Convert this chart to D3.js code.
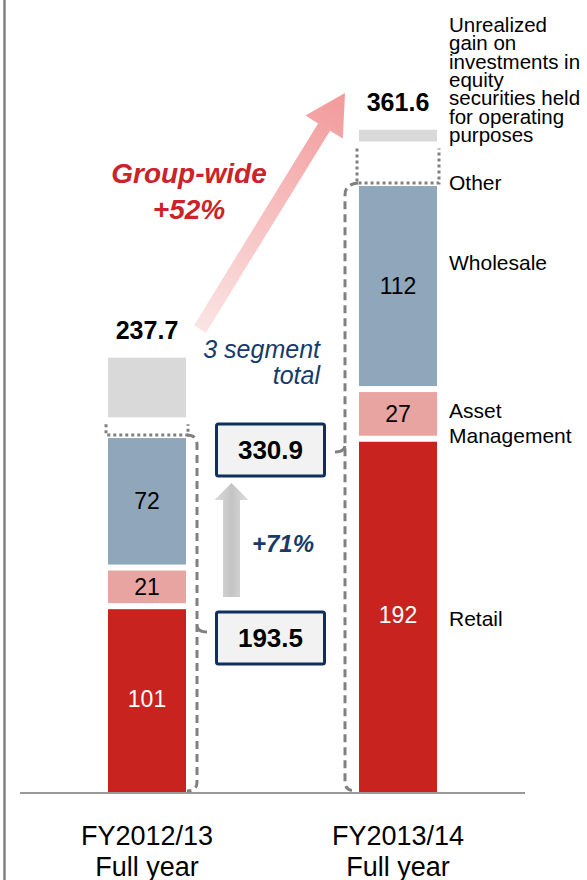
<!DOCTYPE html>
<html><head><meta charset="utf-8">
<script src="https://cdn.jsdelivr.net/npm/d3@7/dist/d3.min.js"></script>
<style>body{margin:0;background:#fff}svg{display:block}text{font-family:"Liberation Sans",Arial,sans-serif}</style>
</head><body><svg id="c" width="587" height="880"></svg>
<script>
// ---- data ----
const categories = ["FY2012/13", "FY2013/14"];
const categorySub = ["Full year", "Full year"];
const retail = [101, 192];
const assetManagement = [21, 27];
const wholesale = [72, 112];
const other = [8, 20.9];
const unrealizedGain = [35.7, 9.7];
const groupTotals = [237.7, 361.6];
const segmentTotals = [193.5, 330.9];
const seriesKeys = ["Retail", "Asset Management", "Wholesale", "Other", "Unrealized"];
const unrealizedLabel = ["Unrealized", "gain on", "investments in", "equity", "securities held", "for operating", "purposes"];
const segmentGrowth = "+71%";
const groupGrowth = ["Group-wide", "+52%"];
const segmentTotalLabel = ["3 segment", "total"];

// ---- setup ----
const svg = d3.select("#c");
const colors = {"Retail":"#c8231f","Asset Management":"#e8a4a1","Wholesale":"#8fa6bb","Unrealized":"#d9d9d9"};
const labelColors = {"Retail":"#ffffff","Asset Management":"#000","Wholesale":"#000"};
const navy = "#163a6a", red = "#cc2229", grayLine = "#808080";

const rows = categories.map((c, i) => ({
  cat: c,
  "Retail": retail[i], "Asset Management": assetManagement[i], "Wholesale": wholesale[i],
  "Other": other[i], "Unrealized": unrealizedGain[i]
}));
const stacked = d3.stack().keys(seriesKeys)(rows);

const x = d3.scalePoint().domain(categories).range([147, 398]);
const y = d3.scaleLinear().domain([0, 361.6]).range([792, 126.7]);
const bw = 78, gap = 3;

// left border line
svg.append("line").attr("x1", 4.5).attr("x2", 4.5).attr("y1", 0).attr("y2", 880)
  .attr("stroke", grayLine).attr("stroke-width", 2.5);

// defs
const defs = svg.append("defs");
const grad = defs.append("linearGradient").attr("id", "pinkGrad")
  .attr("gradientUnits", "userSpaceOnUse")
  .attr("x1", 200).attr("y1", 330).attr("x2", 345).attr("y2", 95);
grad.append("stop").attr("offset", 0).attr("stop-color", "#fbe4e4");
grad.append("stop").attr("offset", 1).attr("stop-color", "#f29a9a");
const grad2 = defs.append("linearGradient").attr("id", "grayGrad")
  .attr("x1", 0).attr("y1", 0).attr("x2", 1).attr("y2", 0);
grad2.append("stop").attr("offset", 0).attr("stop-color", "#dcdcdc");
grad2.append("stop").attr("offset", 0.5).attr("stop-color", "#c4c4c4");
grad2.append("stop").attr("offset", 1).attr("stop-color", "#dcdcdc");

// bars
stacked.forEach(s => {
  if (s.key === "Other") return;
  svg.append("g").selectAll("rect").data(s).join("rect")
    .attr("x", d => x(d.data.cat) - bw / 2)
    .attr("width", bw)
    .attr("y", d => y(d[1]) + gap)
    .attr("height", d => y(d[0]) - y(d[1]) - (s.key === "Retail" ? gap : 2 * gap))
    .attr("fill", colors[s.key]);
  if (labelColors[s.key]) {
    svg.append("g").selectAll("text").data(s).join("text")
      .attr("x", d => x(d.data.cat))
      .attr("y", d => (y(d[0]) + y(d[1])) / 2 + 8)
      .attr("text-anchor", "middle").attr("font-size", 23)
      .attr("fill", labelColors[s.key])
      .text(d => d[1] - d[0]);
  }
});

// "Other" dotted boxes
const otherS = stacked.find(s => s.key === "Other");
svg.append("g").selectAll("path").data(otherS).join("path")
  .attr("d", d => {
    const x0 = x(d.data.cat) - bw / 2 - 2, x1 = x(d.data.cat) + bw / 2 + 2;
    const t = y(d[1]) + 4, b = y(d[0]);
    return `M${x0},${t} L${x0},${b} L${x1},${b} L${x1},${t}`;
  })
  .attr("fill", "none").attr("stroke", grayLine).attr("stroke-width", 3)
  .attr("stroke-dasharray", "3,3");

// totals above bars
svg.append("g").selectAll("text").data(categories).join("text")
  .attr("x", d => x(d)).attr("y", (d, i) => y(groupTotals[i]) - 16)
  .attr("text-anchor", "middle").attr("font-size", 25).attr("font-weight", "bold")
  .attr("fill", "#000").text((d, i) => groupTotals[i].toFixed(1));

// baseline
svg.append("line").attr("x1", 20).attr("x2", 525).attr("y1", 793).attr("y2", 793)
  .attr("stroke", "#999").attr("stroke-width", 2);

// x-axis labels
const xl = svg.append("g").selectAll("g").data(categories).join("g");
xl.append("text").attr("x", d => x(d)).attr("y", 845).attr("text-anchor", "middle")
  .attr("font-size", 27).attr("fill", "#000").text(d => d);
xl.append("text").attr("x", d => x(d)).attr("y", 876).attr("text-anchor", "middle")
  .attr("font-size", 27).attr("fill", "#000").text((d, i) => categorySub[i]);

// brackets (dashed)
const bx0 = x(categories[0]) + bw / 2 + 11;
const bx1 = x(categories[1]) - bw / 2 - 14;
const segTop0 = y(retail[0] + assetManagement[0] + wholesale[0]);
const segTop1 = y(retail[1] + assetManagement[1] + wholesale[1]);
const dashed = {stroke: grayLine, "stroke-width": 3, fill: "none", "stroke-dasharray": "8,5"};
function addPath(d, attrs) { const p = svg.append("path").attr("d", d); Object.entries(attrs).forEach(([k, v]) => p.attr(k, v)); return p; }
addPath(`M${bx0 - 10},${segTop0} Q${bx0},${segTop0} ${bx0},${segTop0 + 10} L${bx0},${782} Q${bx0},${791} ${bx0 - 10},${791}`, dashed);
addPath(`M${bx0},${626} Q${bx0 + 1},${632} ${bx0 + 10},${632}`, {stroke: grayLine, "stroke-width": 3, fill: "none"});
addPath(`M${bx1 + 13},${segTop1} Q${bx1},${segTop1 + 1} ${bx1},${segTop1 + 12} L${bx1},${782} Q${bx1},${791} ${bx1 + 11},${791}`, dashed);
addPath(`M${bx1},${446} Q${bx1 - 1},${452} ${bx1 - 10},${452}`, {stroke: grayLine, "stroke-width": 3, fill: "none"});

// segment total boxes
const boxCx = (x(categories[0]) + x(categories[1])) / 2 - 2;
const boxY = [638, 450];
segmentTotals.forEach((v, i) => {
  svg.append("rect").attr("x", boxCx - 54).attr("y", boxY[i] - 26).attr("width", 108).attr("height", 52)
    .attr("rx", 2).attr("fill", "#f2f2f2").attr("stroke", "#0f2f5c").attr("stroke-width", 3);
  svg.append("text").attr("x", boxCx).attr("y", boxY[i] + 9).attr("text-anchor", "middle")
    .attr("font-size", 26).attr("font-weight", "bold").attr("fill", "#000").text(v.toFixed(1));
});

// gray up arrow
const ax = 231.5;
svg.append("path").attr("d", `M${ax - 8.5},597 L${ax - 8.5},500 L${ax - 17},500 L${ax},483 L${ax + 17},500 L${ax + 8.5},500 L${ax + 8.5},597 Z`)
  .attr("fill", "url(#grayGrad)");
svg.append("text").attr("x", 252).attr("y", 552).attr("font-size", 24).attr("font-weight", "bold")
  .attr("font-style", "italic").attr("fill", navy).text(segmentGrowth);

// 3 segment total
svg.append("g").selectAll("text").data(segmentTotalLabel).join("text")
  .attr("x", 320).attr("y", (d, i) => 358 + i * 26).attr("text-anchor", "end")
  .attr("font-size", 25).attr("font-style", "italic").attr("fill", navy).text(d => d);

// big pink arrow
(function () {
  const sx = 200, sy = 329, tx = 345, ty = 93;
  const dx = tx - sx, dy = ty - sy, L = Math.hypot(dx, dy);
  const ux = dx / L, uy = dy / L, nx = -uy, ny = ux;
  const hw = 7, hh = 22, hl = 40;
  const bx = tx - ux * hl, by = ty - uy * hl;
  const pts = [
    [sx + nx * hw, sy + ny * hw], [bx + nx * hw, by + ny * hw], [bx + nx * hh, by + ny * hh],
    [tx, ty], [bx - nx * hh, by - ny * hh], [bx - nx * hw, by - ny * hw], [sx - nx * hw, sy - ny * hw]
  ];
  svg.append("path").attr("d", d3.line()(pts) + "Z").attr("fill", "url(#pinkGrad)");
})();

// Group-wide
svg.append("g").selectAll("text").data(groupGrowth).join("text")
  .attr("x", 189).attr("y", (d, i) => 183 + i * 36).attr("text-anchor", "middle")
  .attr("font-size", 28).attr("font-weight", "bold").attr("font-style", "italic")
  .attr("fill", red).text(d => d);

// series labels at right
const lx = 449;
const lab = svg.append("g").attr("font-size", 21).attr("fill", "#000");
lab.append("text").attr("x", lx).attr("y", 626).text(seriesKeys[0]);
lab.append("text").attr("x", lx).attr("y", 418).text("Asset");
lab.append("text").attr("x", lx).attr("y", 443).text("Management");
lab.append("text").attr("x", lx).attr("y", 270).text(seriesKeys[2]);
lab.append("text").attr("x", lx).attr("y", 190).text(seriesKeys[3]);
lab.selectAll(".u").data(unrealizedLabel).join("text").attr("class", "u")
  .attr("x", lx).attr("y", (d, i) => 32 + i * 18.3).attr("font-size", 20.5).text(d => d);
</script></body></html>
